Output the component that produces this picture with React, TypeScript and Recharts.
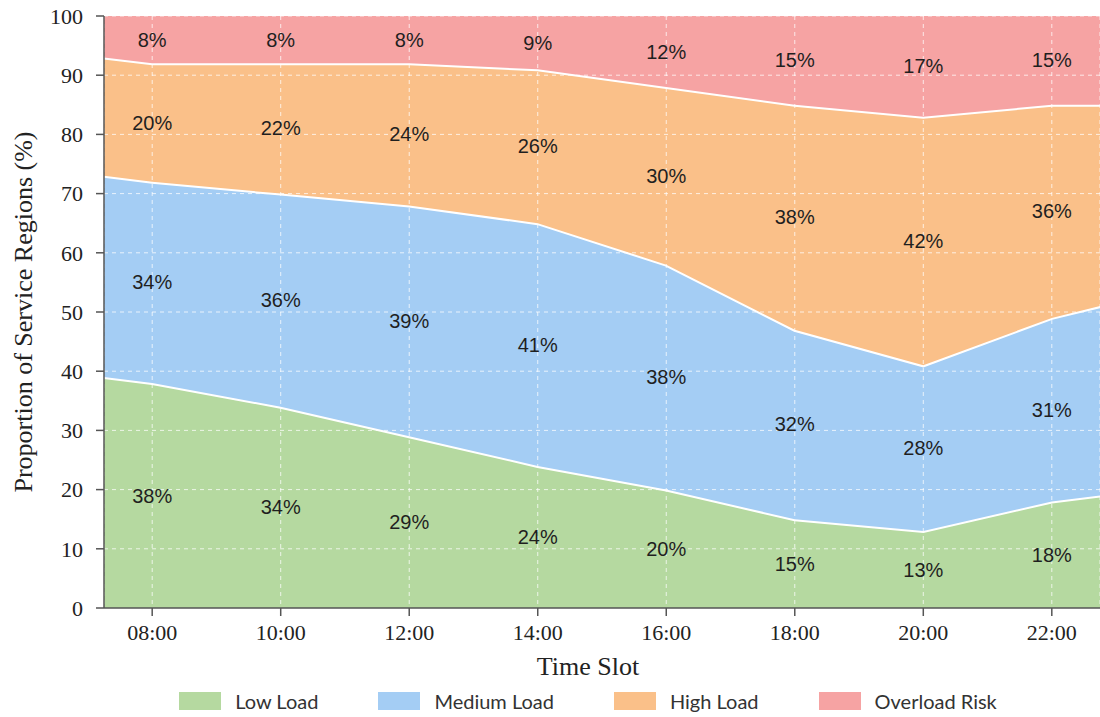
import {
  ComposedChart,
  Area,
  Line,
  XAxis,
  YAxis,
  CartesianGrid,
  Legend,
  Label,
} from 'recharts';

// x positions (hours); the outer two sit on the axis padding so the bands reach the frame
const hours = [7.25, 8, 10, 12, 14, 16, 18, 20, 22, 22.75];
const slotTicks = [8, 10, 12, 14, 16, 18, 20, 22];
const yTicks = [0, 10, 20, 30, 40, 50, 60, 70, 80, 90, 100];
const gridLevels = [10, 20, 30, 40, 50, 60, 70, 80, 90, 100];

// share of service regions per load level (%)
const lowLoad = [39, 38, 34, 29, 24, 20, 15, 13, 18, 19];
const mediumLoad = [34, 34, 36, 39, 41, 38, 32, 28, 31, 32];
const highLoad = [20, 20, 22, 24, 26, 30, 38, 42, 36, 34];
const overloadRisk = [7, 8, 8, 8, 9, 12, 15, 17, 15, 15];

const colors = {
  low: '#b5d9a0',
  medium: '#a4cdf4',
  high: '#fac089',
  overload: '#f6a3a3',
};

const serif = '"Liberation Serif", "Times New Roman", serif';
const labelFont = '"Liberation Sans Narrow", "Liberation Sans", sans-serif';

const data = hours.map((hour, i) => ({
  hour,
  low: lowLoad[i],
  medium: mediumLoad[i],
  high: highLoad[i],
  overload: overloadRisk[i],
  // band centres, used to place the percentage labels
  lowMid: lowLoad[i] / 2,
  mediumMid: lowLoad[i] + mediumLoad[i] / 2,
  highMid: lowLoad[i] + mediumLoad[i] + highLoad[i] / 2,
  overloadMid: lowLoad[i] + mediumLoad[i] + highLoad[i] + overloadRisk[i] / 2,
}));

const legendItems = [
  { name: 'Low Load', color: colors.low },
  { name: 'Medium Load', color: colors.medium },
  { name: 'High Load', color: colors.high },
  { name: 'Overload Risk', color: colors.overload },
];

const formatHour = (h: number) => `${String(h).padStart(2, '0')}:00`;

// percentage text in the middle of a band, only at real time slots
const bandLabel = (values: number[]) => (props: any) => {
  const { x, y, index } = props;
  if (!Number.isInteger(hours[index])) return <g />;
  return (
    <text
      x={x}
      y={y}
      dy="0.35em"
      textAnchor="middle"
      fontFamily={labelFont}
      fontSize={20}
      fill="#1f1f1f"
    >
      {`${values[index]}%`}
    </text>
  );
};

const YTitle = (props: any) => {
  const { viewBox } = props;
  const x = viewBox.x + 32;
  const y = viewBox.y + viewBox.height / 2;
  return (
    <text
      x={x}
      y={y}
      transform={`rotate(-90, ${x}, ${y})`}
      textAnchor="middle"
      fontFamily={serif}
      fontSize={26}
      fill="#222"
    >
      Proportion of Service Regions (%)
    </text>
  );
};

const LegendRow = () => (
  <div
    style={{
      display: 'flex',
      justifyContent: 'center',
      alignItems: 'center',
      gap: 60,
      paddingLeft: 76,
      paddingTop: 8,
      fontFamily: 'Lato, sans-serif',
      fontSize: 20,
      color: '#333',
    }}
  >
    {legendItems.map((item) => (
      <div key={item.name} style={{ display: 'flex', alignItems: 'center' }}>
        <span
          style={{
            width: 42,
            height: 18,
            background: item.color,
            marginRight: 14,
            display: 'inline-block',
          }}
        />
        {item.name}
      </div>
    ))}
  </div>
);

export default function App() {
  return (
    <div style={{ position: 'absolute', left: 0, top: 0, width: 1100, height: 717, background: '#fff' }}>
      <ComposedChart
        width={1100}
        height={717}
        data={data}
        margin={{ top: 16, right: 0, bottom: 0, left: 0 }}
      >
        <Area type="linear" dataKey="low" stackId="load" fill={colors.low} fillOpacity={1} stroke="#fff" strokeWidth={4} isAnimationActive={false} />
        <Area type="linear" dataKey="medium" stackId="load" fill={colors.medium} fillOpacity={1} stroke="#fff" strokeWidth={4} isAnimationActive={false} />
        <Area type="linear" dataKey="high" stackId="load" fill={colors.high} fillOpacity={1} stroke="#fff" strokeWidth={4} isAnimationActive={false} />
        <Area type="linear" dataKey="overload" stackId="load" fill={colors.overload} fillOpacity={1} stroke="none" isAnimationActive={false} />

        <CartesianGrid
          zIndex={1000}
          stroke="#ffffff"
          strokeOpacity={0.75}
          strokeDasharray="4 4"
          horizontalValues={gridLevels}
        />

        <XAxis
          zIndex={2000}
          dataKey="hour"
          type="number"
          domain={[7.25, 22.75]}
          ticks={slotTicks}
          tickFormatter={formatHour}
          tick={{ fontFamily: serif, fontSize: 22, fill: '#222' }}
          tickSize={8}
          tickMargin={8}
          stroke="#555"
          strokeWidth={1.5}
          height={73}
        >
          <Label
            value="Time Slot"
            position="insideBottom"
            offset={6}
            dx={-14}
            style={{ fontFamily: serif, fontSize: 26, fill: '#222' }}
          />
        </XAxis>
        <YAxis
          zIndex={2000}
          type="number"
          domain={[0, 100]}
          ticks={yTicks}
          tick={{ fontFamily: serif, fontSize: 22, fill: '#222' }}
          tickSize={8}
          tickMargin={13}
          stroke="#555"
          strokeWidth={1.5}
          width={104}
        >
          <Label content={<YTitle />} />
        </YAxis>

        <Line dataKey="lowMid" stroke="none" dot={false} activeDot={false} legendType="none" isAnimationActive={false} label={bandLabel(lowLoad)} />
        <Line dataKey="mediumMid" stroke="none" dot={false} activeDot={false} legendType="none" isAnimationActive={false} label={bandLabel(mediumLoad)} />
        <Line dataKey="highMid" stroke="none" dot={false} activeDot={false} legendType="none" isAnimationActive={false} label={bandLabel(highLoad)} />
        <Line dataKey="overloadMid" stroke="none" dot={false} activeDot={false} legendType="none" isAnimationActive={false} label={bandLabel(overloadRisk)} />

        <Legend verticalAlign="bottom" height={36} content={() => <LegendRow />} />
      </ComposedChart>
    </div>
  );
}
